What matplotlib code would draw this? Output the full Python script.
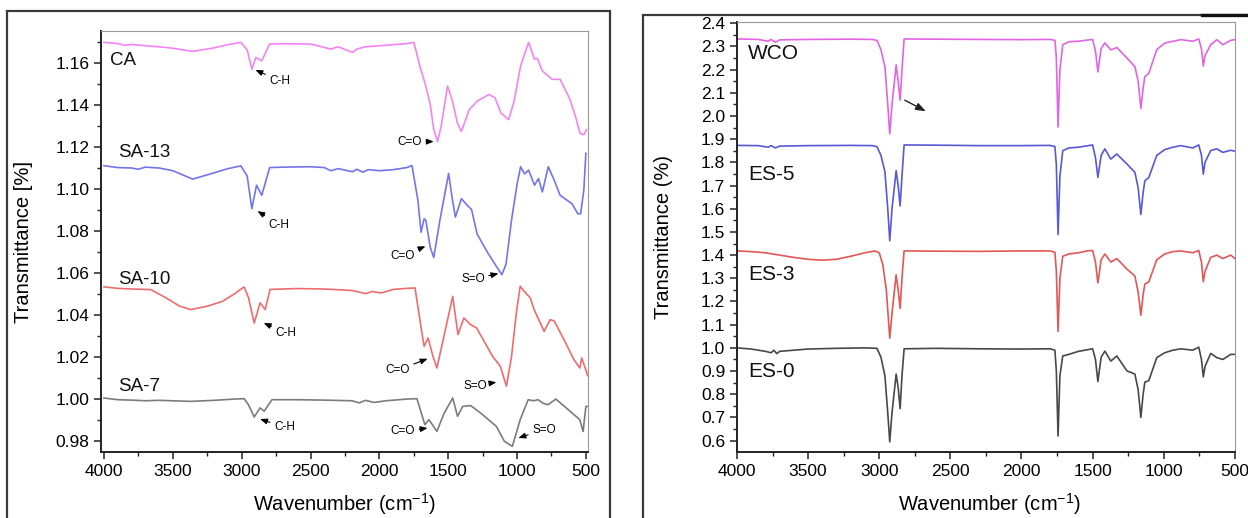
import matplotlib
matplotlib.use("Agg")
import matplotlib.pyplot as plt
from matplotlib.patches import Rectangle
from matplotlib.lines import Line2D
from matplotlib.ticker import MultipleLocator

plt.rcParams['font.family'] = ['Liberation Sans', 'DejaVu Sans']
plt.rcParams['mathtext.fontset'] = 'custom'
plt.rcParams['mathtext.rm'] = 'Liberation Sans'

# left panel spectra: (wavenumber, transmittance)
CA = [(4000, 1.1696), (3900, 1.1690), (3850, 1.1682), (3800, 1.1686), (3700, 1.1680), (3600, 1.1675),
      (3500, 1.1668), (3356, 1.1653), (3200, 1.1670), (3100, 1.1685), (3006, 1.1696), (2960, 1.1660),
      (2926, 1.1568), (2897, 1.1624), (2854, 1.1608), (2797, 1.1688), (2700, 1.1690), (2500, 1.1688),
      (2352, 1.1664), (2300, 1.1675), (2194, 1.1648), (2165, 1.1664), (2100, 1.1675), (2000, 1.1680),
      (1900, 1.1685), (1800, 1.1690), (1749, 1.1696), (1706, 1.1584), (1663, 1.1488), (1630, 1.1400),
      (1605, 1.1280), (1577, 1.1224), (1550, 1.1300), (1505, 1.1488), (1470, 1.1420), (1433, 1.1312),
      (1404, 1.1272), (1347, 1.1376), (1290, 1.1416), (1204, 1.1448), (1160, 1.1432), (1117, 1.1360),
      (1060, 1.1328), (1020, 1.1420), (974, 1.1584), (916, 1.1696), (873, 1.1616), (853, 1.1620),
      (816, 1.1560), (744, 1.1520), (687, 1.1520), (615, 1.1424), (572, 1.1336), (543, 1.1264),
      (515, 1.1256), (495, 1.1280)]
SA13 = [(4000, 1.1109), (3900, 1.1100), (3800, 1.1098), (3750, 1.1092), (3700, 1.1102), (3600, 1.1098),
        (3500, 1.1085), (3356, 1.1045), (3200, 1.1075), (3100, 1.1095), (3006, 1.1108), (2960, 1.1060),
        (2926, 1.0904), (2892, 1.1016), (2854, 1.0968), (2797, 1.1100), (2700, 1.1102), (2500, 1.1104),
        (2400, 1.1100), (2352, 1.1085), (2300, 1.1095), (2194, 1.1080), (2165, 1.1092), (2120, 1.1078),
        (2080, 1.1090), (2000, 1.1085), (1900, 1.1090), (1800, 1.1100), (1763, 1.1110), (1720, 1.0944),
        (1697, 1.0792), (1675, 1.0856), (1663, 1.0850), (1630, 1.0720), (1605, 1.0672), (1560, 1.0850),
        (1497, 1.1072), (1470, 1.0950), (1448, 1.0864), (1404, 1.0952), (1361, 1.0920), (1330, 1.0900),
        (1290, 1.0784), (1218, 1.0700), (1160, 1.0640), (1110, 1.0590), (1080, 1.0640), (1040, 1.0850),
        (1000, 1.1020), (974, 1.1104), (945, 1.1070), (916, 1.1088), (873, 1.1016), (844, 1.1048),
        (816, 1.0984), (773, 1.1104), (730, 1.1040), (687, 1.0968), (601, 1.0928), (558, 1.0880),
        (538, 1.0880), (515, 1.0992), (500, 1.1168)]
SA10 = [(4000, 1.0532), (3900, 1.0525), (3800, 1.0522), (3660, 1.0519), (3550, 1.0480), (3450, 1.0440),
        (3371, 1.0424), (3250, 1.0440), (3140, 1.0463), (3050, 1.0500), (2982, 1.0532), (2950, 1.0480),
        (2909, 1.0360), (2866, 1.0456), (2829, 1.0424), (2794, 1.0520), (2600, 1.0524), (2400, 1.0522),
        (2200, 1.0515), (2100, 1.0500), (2050, 1.0510), (1986, 1.0503), (1900, 1.0520), (1800, 1.0525),
        (1741, 1.0527), (1698, 1.0344), (1675, 1.0249), (1646, 1.0289), (1610, 1.0200), (1582, 1.0146),
        (1530, 1.0300), (1467, 1.0487), (1429, 1.0305), (1386, 1.0384), (1337, 1.0352), (1294, 1.0337),
        (1178, 1.0202), (1121, 1.0154), (1077, 1.0059), (1040, 1.0200), (1005, 1.0408), (977, 1.0535),
        (948, 1.0511), (904, 1.0480), (876, 1.0424), (803, 1.0320), (760, 1.0376), (730, 1.0370),
        (659, 1.0281), (587, 1.0186), (544, 1.0146), (530, 1.0194), (501, 1.0138), (488, 1.0110)]
SA7 = [(4000, 1.0003), (3900, 0.9995), (3800, 0.9993), (3700, 0.9990), (3600, 0.9992), (3371, 0.9987),
       (3200, 0.9992), (3050, 0.9998), (2982, 1.0000), (2950, 0.9970), (2909, 0.9913), (2866, 0.9956),
       (2837, 0.9940), (2780, 0.9995), (2600, 0.9995), (2400, 0.9993), (2200, 0.9990), (2145, 0.9980),
       (2100, 0.9992), (2040, 0.9982), (1950, 0.9990), (1800, 0.9998), (1727, 1.0000), (1692, 0.9924),
       (1669, 0.9876), (1640, 0.9900), (1582, 0.9844), (1530, 0.9930), (1467, 1.0003), (1432, 0.9916),
       (1395, 0.9963), (1337, 0.9967), (1265, 0.9932), (1150, 0.9868), (1092, 0.9797), (1034, 0.9773),
       (977, 0.9900), (919, 0.9995), (880, 0.9990), (847, 0.9995), (810, 0.9978), (775, 0.9971),
       (718, 0.9998), (650, 0.9960), (601, 0.9932), (544, 0.9900), (520, 0.9844), (500, 0.9963),
       (480, 0.9963)]

# right panel spectra
WCO = [(4000, 2.332), (3850, 2.330), (3780, 2.322), (3760, 2.330), (3730, 2.318), (3700, 2.328),
       (3500, 2.330), (3200, 2.331), (3050, 2.330), (3016, 2.326), (2988, 2.286), (2960, 2.213),
       (2940, 2.050), (2926, 1.923), (2910, 2.050), (2881, 2.220), (2867, 2.150), (2853, 2.068),
       (2840, 2.200), (2825, 2.332), (2600, 2.331), (2300, 2.330), (2000, 2.329), (1800, 2.330),
       (1765, 2.326), (1755, 2.250), (1743, 1.952), (1730, 2.200), (1710, 2.307), (1667, 2.320),
       (1600, 2.322), (1500, 2.330), (1480, 2.280), (1463, 2.190), (1440, 2.290), (1414, 2.315),
       (1372, 2.285), (1330, 2.295), (1259, 2.250), (1203, 2.213), (1180, 2.150), (1161, 2.032),
       (1145, 2.120), (1133, 2.170), (1105, 2.184), (1049, 2.286), (993, 2.314), (936, 2.322),
       (880, 2.329), (796, 2.322), (754, 2.332), (735, 2.290), (722, 2.215), (710, 2.260),
       (670, 2.307), (627, 2.329), (585, 2.307), (529, 2.326), (500, 2.329)]
ES5 = [(4000, 1.873), (3850, 1.872), (3780, 1.865), (3760, 1.872), (3730, 1.862), (3700, 1.870),
       (3500, 1.872), (3200, 1.873), (3050, 1.872), (3016, 1.868), (2988, 1.830), (2960, 1.760),
       (2940, 1.600), (2926, 1.462), (2910, 1.600), (2881, 1.764), (2867, 1.700), (2853, 1.612),
       (2840, 1.740), (2825, 1.875), (2600, 1.874), (2300, 1.872), (2000, 1.872), (1800, 1.873),
       (1765, 1.868), (1755, 1.790), (1743, 1.488), (1730, 1.740), (1710, 1.850), (1667, 1.862),
       (1600, 1.865), (1500, 1.875), (1480, 1.820), (1463, 1.735), (1440, 1.830), (1414, 1.858),
       (1372, 1.814), (1330, 1.836), (1259, 1.793), (1203, 1.757), (1180, 1.690), (1161, 1.575),
       (1145, 1.670), (1133, 1.720), (1105, 1.735), (1049, 1.830), (993, 1.855), (936, 1.865),
       (880, 1.872), (796, 1.862), (754, 1.875), (735, 1.830), (722, 1.749), (710, 1.800),
       (670, 1.851), (627, 1.858), (585, 1.843), (529, 1.852), (500, 1.848)]
ES3 = [(4000, 1.418), (3900, 1.415), (3800, 1.410), (3700, 1.400), (3600, 1.390), (3500, 1.382),
       (3400, 1.378), (3300, 1.382), (3200, 1.395), (3100, 1.410), (3030, 1.418), (3000, 1.410),
       (2975, 1.360), (2950, 1.250), (2926, 1.042), (2910, 1.150), (2881, 1.315), (2867, 1.250),
       (2853, 1.170), (2840, 1.300), (2825, 1.418), (2600, 1.417), (2300, 1.416), (2000, 1.418),
       (1800, 1.418), (1765, 1.412), (1755, 1.330), (1743, 1.071), (1730, 1.300), (1710, 1.395),
       (1667, 1.405), (1600, 1.410), (1540, 1.418), (1500, 1.420), (1480, 1.370), (1463, 1.280),
       (1440, 1.380), (1414, 1.405), (1372, 1.370), (1330, 1.385), (1259, 1.340), (1203, 1.310),
       (1180, 1.240), (1161, 1.141), (1145, 1.230), (1133, 1.275), (1105, 1.285), (1049, 1.380),
       (993, 1.405), (936, 1.415), (880, 1.418), (796, 1.410), (754, 1.420), (735, 1.370),
       (722, 1.285), (710, 1.330), (670, 1.390), (627, 1.400), (585, 1.385), (529, 1.400),
       (500, 1.385)]
ES0 = [(4000, 1.000), (3900, 0.995), (3800, 0.985), (3760, 0.979), (3740, 0.990), (3720, 0.975),
       (3700, 0.985), (3600, 0.990), (3500, 0.995), (3300, 0.998), (3100, 1.000), (3016, 0.998),
       (2988, 0.960), (2960, 0.880), (2940, 0.720), (2926, 0.595), (2910, 0.720), (2881, 0.887),
       (2867, 0.830), (2853, 0.738), (2840, 0.880), (2825, 0.996), (2600, 0.998), (2300, 0.996),
       (2000, 0.995), (1800, 0.996), (1765, 0.990), (1755, 0.900), (1743, 0.620), (1730, 0.880),
       (1710, 0.965), (1667, 0.972), (1600, 0.985), (1500, 0.996), (1480, 0.950), (1463, 0.855),
       (1440, 0.960), (1414, 0.986), (1372, 0.943), (1330, 0.965), (1259, 0.901), (1203, 0.887),
       (1180, 0.820), (1161, 0.700), (1145, 0.800), (1133, 0.852), (1105, 0.859), (1049, 0.958),
       (993, 0.979), (936, 0.990), (880, 0.996), (796, 0.990), (754, 1.003), (735, 0.950),
       (722, 0.875), (710, 0.920), (670, 0.976), (627, 0.958), (585, 0.950), (529, 0.972),
       (500, 0.972)]

left_series = [('CA', CA, '#f384f3', (3955, 1.1608)),
               ('SA-13', SA13, '#7474ec', (3900, 1.1170)),
               ('SA-10', SA10, '#ef6c6c', (3900, 1.0567)),
               ('SA-7', SA7, '#7c7c7c', (3900, 1.0059))]
right_series = [('WCO', WCO, '#e264e2', (3920, 2.271)),
                ('ES-5', ES5, '#5858d8', (3920, 1.749)),
                ('ES-3', ES3, '#e25656', (3920, 1.318)),
                ('ES-0', ES0, '#484848', (3920, 0.897))]

# band labels: text, text position, arrow tip, alignment
bands = [('C-H', (2800, 1.1512), (2900, 1.1565), 'left'),
         ('C=O', (1690, 1.1222), (1605, 1.1224), 'right'),
         ('C-H', (2805, 1.0829), (2885, 1.0893), 'left'),
         ('C=O', (1745, 1.0680), (1665, 1.0725), 'right'),
         ('S=O', (1235, 1.0570), (1135, 1.0595), 'right'),
         ('C-H', (2755, 1.0313), (2840, 1.0360), 'left'),
         ('C=O', (1780, 1.0135), (1650, 1.0190), 'right'),
         ('S=O', (1220, 1.0062), (1150, 1.0078), 'right'),
         ('C-H', (2765, 0.9863), (2866, 0.9903), 'left'),
         ('C=O', (1740, 0.9844), (1650, 0.9860), 'right'),
         ('S=O', (890, 0.9852), (990, 0.9813), 'left')]


def style_axes(ax, ymajor, yminor):
    ax.xaxis.set_major_locator(MultipleLocator(500))
    ax.xaxis.set_minor_locator(MultipleLocator(250))
    ax.yaxis.set_major_locator(MultipleLocator(ymajor))
    ax.yaxis.set_minor_locator(MultipleLocator(yminor))
    ax.tick_params(which='major', direction='out', length=5, width=1.1, labelsize=12.5, color='#222222')
    ax.tick_params(which='minor', direction='out', length=3, width=1.0, color='#222222')
    ax.tick_params(top=False, right=False)
    ax.spines['left'].set_color('#222222')
    ax.spines['bottom'].set_color('#222222')
    ax.spines['left'].set_linewidth(1.4)
    ax.spines['bottom'].set_linewidth(1.4)
    ax.spines['top'].set_color('#9a9a9a')
    ax.spines['right'].set_color('#9a9a9a')
    ax.set_xlabel('Wavenumber (cm$^{-1}$)', fontsize=14.5)


fig = plt.figure(figsize=(12.48, 5.18), dpi=100)

ax1 = fig.add_axes([0.0809, 0.1274, 0.3902, 0.8127])
for name, data, col, pos in left_series:
    ax1.plot([p[0] for p in data], [p[1] for p in data], color=col, lw=1.2)
    ax1.text(pos[0], pos[1], name, fontsize=13.5, ha='left', va='center', color='#111111')
for txt, tpos, tip, ha in bands:
    ax1.annotate(txt, xy=tip, xytext=tpos, fontsize=8.5, ha=ha, va='center',
                 arrowprops=dict(arrowstyle='-|>,head_length=0.5,head_width=0.2', color='black',
                                 lw=0.8, shrinkA=1, shrinkB=0))
ax1.set_xlim(4022, 485)
ax1.set_ylim(0.9746, 1.175)
style_axes(ax1, 0.02, 0.01)
ax1.yaxis.set_major_formatter(matplotlib.ticker.FormatStrFormatter('%.2f'))
ax1.set_ylabel('Transmittance [%]', fontsize=14.5)
ax1.yaxis.set_label_coords(-0.140, 0.5)
ax1.xaxis.set_label_coords(0.50, -0.092)

ax2 = fig.add_axes([0.5905, 0.1274, 0.3990, 0.8301])
for name, data, col, pos in right_series:
    ax2.plot([p[0] for p in data], [p[1] for p in data], color=col, lw=1.2)
    ax2.text(pos[0], pos[1], name, fontsize=15, ha='left', va='center', color='#111111')
ax2.annotate('', xy=(2672, 2.02), xytext=(2820, 2.068),
             arrowprops=dict(arrowstyle='-|>,head_length=0.6,head_width=0.22', color='#222222',
                             lw=1.0, shrinkA=0, shrinkB=0))
ax2.set_xlim(4000, 500)
ax2.set_ylim(0.551, 2.405)
style_axes(ax2, 0.1, 0.05)
ax2.yaxis.set_major_formatter(matplotlib.ticker.FormatStrFormatter('%.1f'))
ax2.set_ylabel('Transmittance (%)', fontsize=14.5)
ax2.yaxis.set_label_coords(-0.128, 0.5)
ax2.xaxis.set_label_coords(0.508, -0.090)

# outer frames of the two pictures
W, H = 1248.0, 518.0
fig.add_artist(Rectangle((7 / W, -0.1), 603 / W, 1.1 - 11 / H, transform=fig.transFigure,
                         fill=False, edgecolor='#3a3a3a', lw=1.6))
fig.add_artist(Rectangle((643 / W, -0.1), 0.6, 1.1 - 15 / H, transform=fig.transFigure,
                         fill=False, edgecolor='#3a3a3a', lw=1.6))
fig.add_artist(Line2D([1202 / W, 1.0], [1 - 15 / H, 1 - 15 / H], transform=fig.transFigure,
                      color='#111111', lw=2.4))

fig.savefig('out.png', dpi=100)
